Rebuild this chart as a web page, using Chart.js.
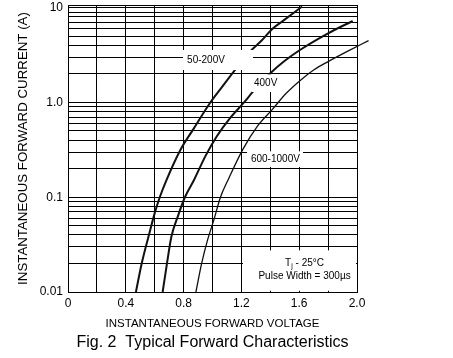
<!DOCTYPE html>
<html>
<head>
<meta charset="utf-8">
<script src="https://cdn.jsdelivr.net/npm/chart.js@4.4.1/dist/chart.umd.min.js"></script>
<style>
  html, body { margin: 0; padding: 0; background: #fff; }
  #wrap { width: 453px; height: 358px; }
</style>
</head>
<body>
<div id="wrap"><canvas id="myChart"></canvas></div>
<script>
// Forward voltage (V) / current (A)
const volts50 = [0.47, 0.51, 0.56, 0.60, 0.635, 0.68, 0.775, 0.87, 0.985, 1.06, 1.155, 1.26, 1.34, 1.41, 1.49, 1.62];
const amps50 = [0.01, 0.02, 0.04, 0.068, 0.1, 0.15, 0.31, 0.53, 1.0, 1.42, 2.2, 3.45, 4.5, 5.9, 7.3, 10.3];

const volts400 = [0.655, 0.685, 0.715, 0.762, 0.809, 0.872, 0.95, 1.03, 1.12, 1.218, 1.28, 1.40, 1.50, 1.605, 1.80, 1.97];
const amps400 = [0.01, 0.02, 0.038, 0.064, 0.1, 0.152, 0.27, 0.44, 0.68, 1.0, 1.3, 2.03, 2.75, 3.58, 5.37, 7.24];

const volts600 = [0.885, 0.925, 0.965, 1.01, 1.055, 1.11, 1.21, 1.31, 1.41, 1.51, 1.605, 1.70, 1.80, 1.94, 2.08];
const amps600 = [0.01, 0.02, 0.035, 0.058, 0.1, 0.155, 0.32, 0.56, 0.83, 1.25, 1.7, 2.2, 2.7, 3.5, 4.5];

const seriesNames = ["50-200V", "400V", "600-1000V"];

// Tick labels
const xTickValues = [0, 0.4, 0.8, 1.2, 1.6, 2.0];
const xTickLabels = ["0", "0.4", "0.8", "1.2", "1.6", "2.0"];
const yTickValues = [0.01, 0.1, 1, 10];
const yTickLabels = ["0.01", "0.1", "1.0", "10"];

const FONT = "'Liberation Sans', Arial, sans-serif";
const yMax = 10.68; // a hair above 10 so the frame sits over the 10 line

// grid: every 0.2 V, and every 1..9 step of each decade
const xGrid = [];
for (let i = 0; i <= 10; i++) xGrid.push(Math.round(i * 2) / 10);
const yGrid = [];
[0.01, 0.1, 1].forEach(d => {
  for (let m = 1; m < 10; m++) yGrid.push(+(d * m).toPrecision(3));
});
yGrid.push(10, yMax);

const pts = (xs, ys) => xs.map((v, i) => ({ x: v, y: ys[i] }));
const findLabel = (vals, labels, v) => {
  const i = vals.findIndex(t => Math.abs(t - v) < 1e-6 * Math.max(1, t));
  return i >= 0 ? labels[i] : "";
};

// white boxes behind the in-plot notes (data units)
const boxes = [
  { x0: 0.796, x1: 1.28, y0: 2.2, y1: 3.58 },
  { x0: 1.273, x1: 1.474, y0: 1.29, y1: 1.98 },
  { x0: 1.239, x1: 1.626, y0: 0.209, y1: 0.305 },
  { x0: 1.211, x1: 1.993, y0: 0.0103, y1: 0.0275 }
];
const curveNotes = [
  { text: seriesNames[0], x: 0.824, y: 2.76 },
  { text: seriesNames[1], x: 1.287, y: 1.61 },
  { text: seriesNames[2], x: 1.266, y: 0.253 }
];

const notesPlugin = {
  id: "notes",
  afterDatasetsDraw(chart) {
    const { ctx, scales: { x, y } } = chart;
    ctx.save();
    ctx.fillStyle = "#fff";
    boxes.forEach(b => {
      const px0 = x.getPixelForValue(b.x0), px1 = x.getPixelForValue(b.x1);
      const py0 = y.getPixelForValue(b.y0), py1 = y.getPixelForValue(b.y1);
      ctx.fillRect(px0, py1, px1 - px0, py0 - py1);
    });
    ctx.fillStyle = "#000";
    ctx.textBaseline = "middle";
    ctx.textAlign = "left";
    ctx.font = "10px " + FONT;
    curveNotes.forEach(n => {
      ctx.fillText(n.text, x.getPixelForValue(n.x), y.getPixelForValue(n.y));
    });

    // Tj - 25°C / Pulse Width = 300µs
    const cx = x.getPixelForValue(1.637);
    const l1 = y.getPixelForValue(0.02);
    const l2 = y.getPixelForValue(0.0146);
    ctx.font = "10px " + FONT;
    const wT = ctx.measureText("T").width;
    const wRest = ctx.measureText(" - 25°C").width;
    ctx.font = "7px " + FONT;
    const wj = ctx.measureText("j").width;
    let sx = cx - (wT + wj + wRest) / 2;
    ctx.font = "10px " + FONT;
    ctx.fillText("T", sx, l1);
    ctx.font = "7px " + FONT;
    ctx.fillText("j", sx + wT, l1 + 3);
    ctx.font = "10px " + FONT;
    ctx.fillText(" - 25°C", sx + wT + wj, l1);
    ctx.textAlign = "center";
    ctx.fillText("Pulse Width = 300µs", cx, l2);
    ctx.restore();
  }
};

const ctx = document.getElementById("myChart").getContext("2d");
Chart.defaults.font.family = FONT;
Chart.defaults.color = "#000";

const myChart = new Chart(ctx, {
  type: "line",
  data: {
    datasets: [
      { label: seriesNames[0], data: pts(volts50, amps50), borderColor: "#111", borderWidth: 2 },
      { label: seriesNames[1], data: pts(volts400, amps400), borderColor: "#111", borderWidth: 2 },
      { label: seriesNames[2], data: pts(volts600, amps600), borderColor: "#111", borderWidth: 1.3, clip: false }
    ]
  },
  options: {
    responsive: true,
    maintainAspectRatio: false,
    animation: false,
    elements: {
      point: { radius: 0 },
      line: { cubicInterpolationMode: "monotone", fill: false }
    },
    layout: { padding: { left: 8, right: 96, top: 5, bottom: 0 } },
    plugins: {
      legend: { display: false },
      tooltip: { enabled: false },
      title: {
        display: true,
        position: "bottom",
        fullSize: false,
        text: "Fig. 2  Typical Forward Characteristics",
        color: "#000",
        font: { size: 16, weight: "normal" },
        padding: { top: 2, bottom: 6 }
      }
    },
    scales: {
      x: {
        type: "linear",
        min: 0,
        max: 2.0,
        afterBuildTicks: s => { s.ticks = xGrid.map(v => ({ value: v })); },
        afterFit: s => { s.height = 38.8; s.paddingLeft = 0; s.paddingRight = 0; },
        ticks: {
          autoSkip: false,
          maxRotation: 0,
          padding: 4,
          font: { size: 12 },
          callback: v => findLabel(xTickValues, xTickLabels, v)
        },
        grid: { color: "#000", lineWidth: 1, drawTicks: false },
        border: { color: "#000", width: 1 },
        title: {
          display: true,
          text: "INSTANTANEOUS FORWARD VOLTAGE",
          font: { size: 11.5 },
          padding: { top: 7, bottom: 0 }
        }
      },
      y: {
        type: "logarithmic",
        min: 0.01,
        max: yMax,
        afterBuildTicks: s => { s.ticks = yGrid.map(v => ({ value: v })); },
        afterFit: s => { s.width = 60; s.paddingTop = 0; s.paddingBottom = 0; },
        ticks: {
          autoSkip: false,
          padding: 5,
          font: { size: 12 },
          callback: v => findLabel(yTickValues, yTickLabels, v)
        },
        grid: { color: "#000", lineWidth: 1, drawTicks: false },
        border: { color: "#000", width: 1 },
        title: {
          display: true,
          text: "INSTANTANEOUS FORWARD CURRENT (A)",
          font: { size: 13.3 },
          padding: { top: 7, bottom: 0 }
        }
      }
    }
  },
  plugins: [notesPlugin]
});
</script>
</body>
</html>
